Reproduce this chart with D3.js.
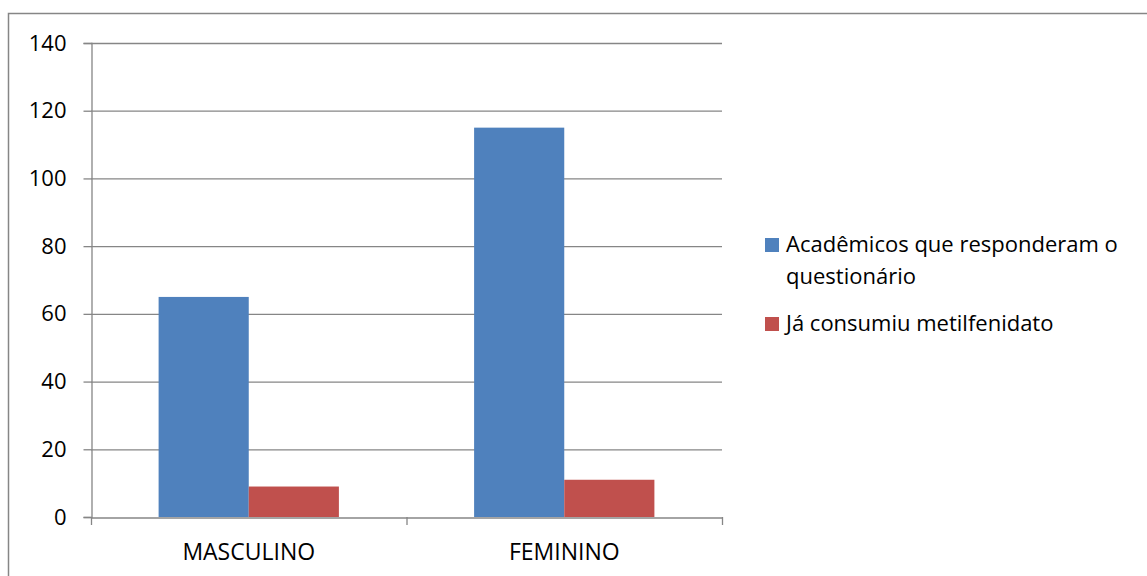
<!DOCTYPE html>
<html>
<head>
<meta charset="utf-8">
<script src="https://cdn.jsdelivr.net/npm/d3@7"></script>
<style>
  body { margin: 0; background: #fff; }
  text { font-family: "Open Sans", "Noto Sans", sans-serif; fill: #000; }
</style>
</head>
<body>
<div id="chart"></div>
<script>
const categories = ['MASCULINO', 'FEMININO'];
const seriesNames = ['Acadêmicos que responderam o questionário', 'Já consumiu metilfenidato'];
const respondents = [65, 115];
const consumed = [9, 11];
const yTicks = [0, 20, 40, 60, 80, 100, 120, 140];

const width = 1147;
const height = 576;
const colors = ['#4f81bd', '#c0504d'];

const svg = d3.select('#chart')
  .append('svg')
  .attr('width', width)
  .attr('height', height);

// outer frame
svg.append('rect')
  .attr('x', 8.5)
  .attr('y', 13.5)
  .attr('width', width)
  .attr('height', height)
  .attr('fill', 'none')
  .attr('stroke', '#868686')
  .attr('stroke-width', 1.5);

const plot = { left: 91, right: 722, top: 43, bottom: 517 };

const x = d3.scaleBand()
  .domain(categories)
  .range([plot.left, plot.right])
  .paddingInner(0)
  .paddingOuter(0);

const xSub = d3.scaleBand()
  .domain([0, 1])
  .range([0, x.bandwidth()])
  .paddingInner(0)
  .paddingOuter(0.75);

const y = d3.scaleLinear()
  .domain([0, 140])
  .range([plot.bottom, plot.top]);

// gridlines
svg.append('g')
  .selectAll('line')
  .data(yTicks.filter(d => d > 0))
  .enter()
  .append('line')
  .attr('x1', plot.left)
  .attr('x2', plot.right)
  .attr('y1', d => y(d) + 0.5)
  .attr('y2', d => y(d) + 0.5)
  .attr('stroke', '#868686')
  .attr('stroke-width', 1.3);

// bars
const data = categories.map((c, i) => ({ cat: c, values: [respondents[i], consumed[i]] }));

const groups = svg.append('g')
  .selectAll('g')
  .data(data)
  .enter()
  .append('g')
  .attr('transform', d => `translate(${x(d.cat)},0)`);

groups.selectAll('rect')
  .data(d => d.values.map((v, k) => ({ k, v })))
  .enter()
  .append('rect')
  .attr('x', d => xSub(d.k))
  .attr('width', xSub.bandwidth())
  .attr('y', d => y(d.v))
  .attr('height', d => y(0) - y(d.v))
  .attr('fill', d => colors[d.k]);

// y axis
const yAxis = svg.append('g')
  .attr('transform', `translate(${plot.left + 0.5},0)`)
  .call(d3.axisLeft(y).tickValues(yTicks).tickSize(8).tickPadding(17));
yAxis.select('.domain').attr('stroke', '#868686').attr('stroke-width', 1.3);
yAxis.selectAll('.tick line').attr('stroke', '#868686').attr('stroke-width', 1.3);
yAxis.selectAll('.tick text').style('font-size', '22px').attr('fill', '#000');

// x axis
const xAxis = svg.append('g')
  .attr('transform', `translate(0,${plot.bottom + 0.5})`)
  .call(d3.axisBottom(x).tickSize(0).tickPadding(26));
xAxis.select('.domain').attr('stroke', '#868686').attr('stroke-width', 1.3);
xAxis.selectAll('.tick text').style('font-size', '23px').attr('fill', '#000');

// category boundary ticks
svg.append('g')
  .selectAll('line')
  .data(x.range().concat([x(categories[1])]))
  .enter()
  .append('line')
  .attr('x1', d => d + 0.5)
  .attr('x2', d => d + 0.5)
  .attr('y1', plot.bottom)
  .attr('y2', plot.bottom + 8)
  .attr('stroke', '#868686')
  .attr('stroke-width', 1.3);

// legend
const legend = svg.append('g').attr('transform', 'translate(765,0)');
const legendItems = [
  { lines: ['Acadêmicos que responderam o', 'questionário'], y: 238 },
  { lines: ['Já consumiu metilfenidato'], y: 317 }
];
legendItems.forEach((item, i) => {
  legend.append('rect')
    .attr('x', 0)
    .attr('y', item.y)
    .attr('width', 14)
    .attr('height', 14)
    .attr('fill', colors[i]);
  const t = legend.append('text')
    .attr('x', 21)
    .attr('y', item.y + 14)
    .style('font-size', '22px');
  item.lines.forEach((l, j) => {
    t.append('tspan')
      .attr('x', 21)
      .attr('dy', j === 0 ? 0 : 32)
      .text(l);
  });
});
</script>
</body>
</html>
